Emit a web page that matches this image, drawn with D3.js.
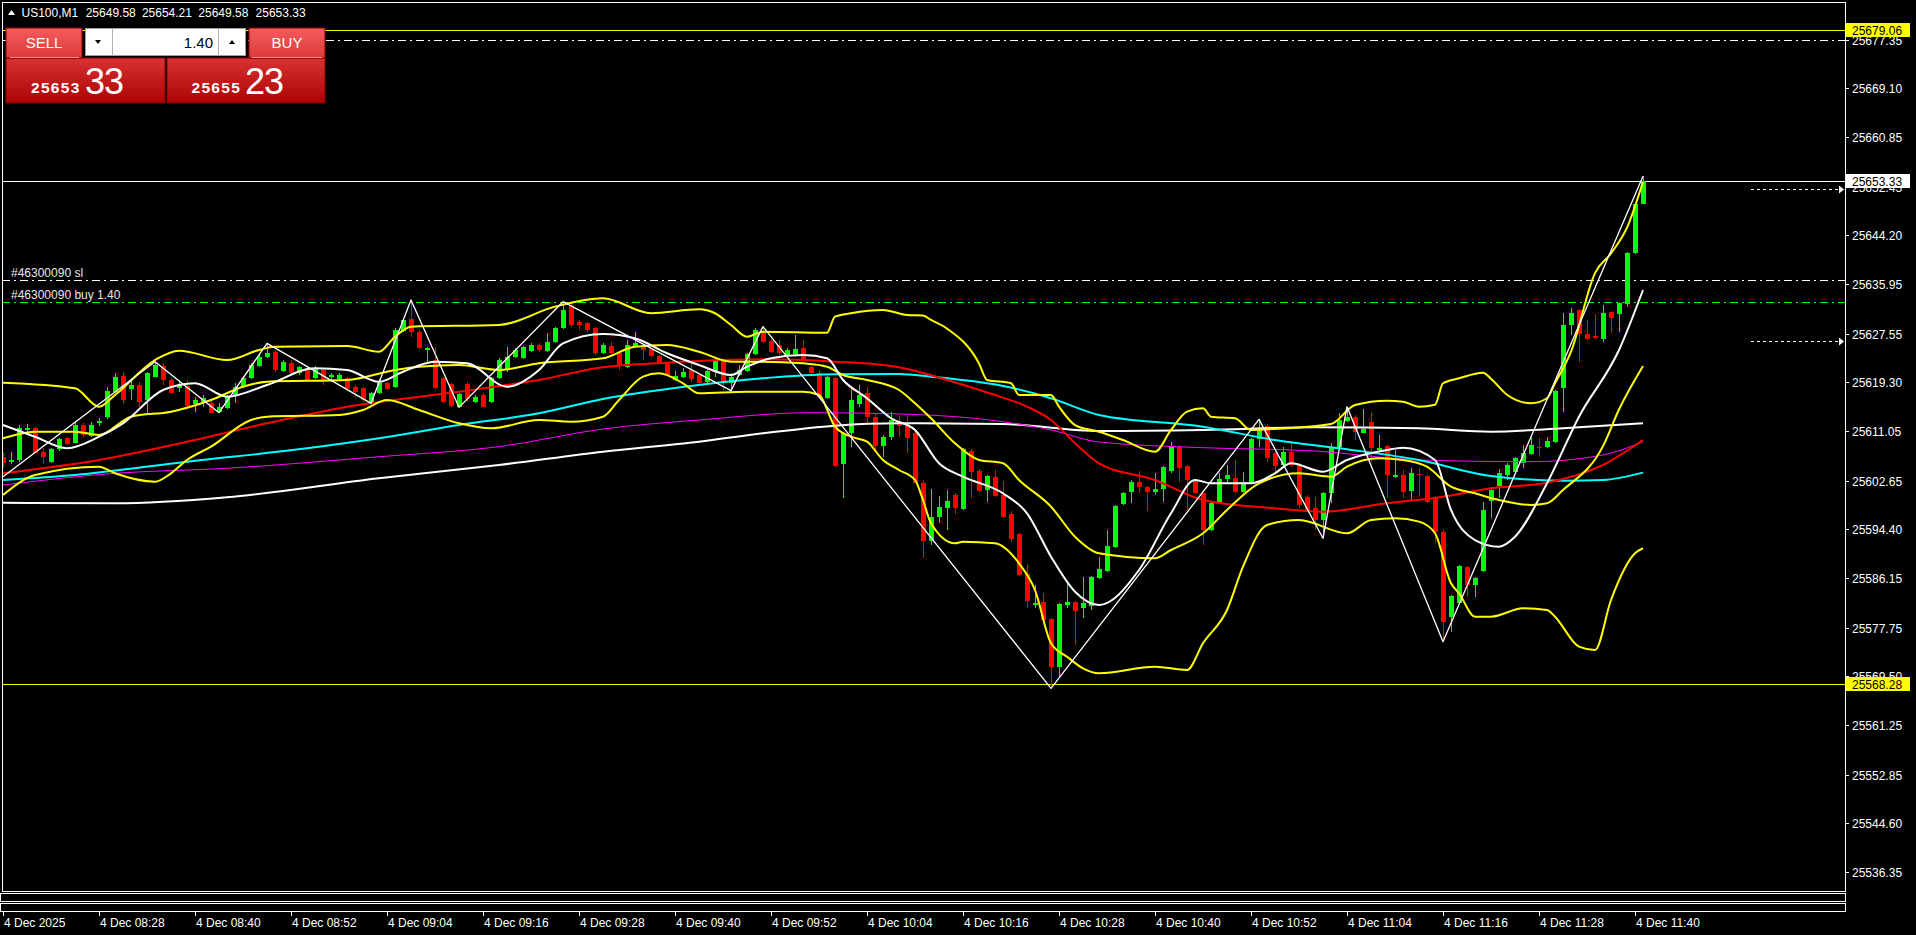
<!DOCTYPE html>
<html><head><meta charset="utf-8">
<script src="https://cdn.jsdelivr.net/npm/d3@7"></script>
<style>
html,body{margin:0;padding:0;background:#000;overflow:hidden}
svg{display:block}
text{font-family:"Liberation Sans",Arial,sans-serif}
</style></head><body>
<svg id="c" width="1916" height="935"></svg>
<script>
// ---------- DATA ----------
const symbolLabel = "US100,M1";
const headerOHLC = ["25649.58","25654.21","25649.58","25653.33"];
const opens = [25606.71,25605.81,25606.14,25611.23,25611.62,25607.56,25605.75,25607.95,25609.81,25609.08,
25612.07,25610.21,25612.35,25613.48,25617.72,25620.37,25618.17,25618.85,25616.31,25620.26,
25622.07,25619.69,25618.28,25618.68,25615.63,25615.74,25615.86,25614.33,25614.90,25616.98,
25618.45,25619.98,25622.07,25623.53,25624.49,25621.28,25622.63,25620.82,25621.67,25619.98,
25621.39,25620.15,25619.86,25619.98,25618.57,25618.28,25615.86,25617.44,25619.13,25618.45,
25628.05,25629.97,25627.88,25624.78,25623.08,25619.98,25619.02,25615.18,25619.02,25616.02,
25617.15,25616.02,25619.98,25621.39,25623.53,25623.36,25624.66,25625.62,25624.66,25626.19,
25628.45,25632.40,25629.57,25629.29,25628.45,25624.32,25625.45,25624.21,25621.84,25625.45,
25625.45,25624.89,25623.76,25622.63,25619.69,25620.26,25621.39,25620.54,25619.41,25621.10,
25622.97,25619.13,25620.54,25621.27,25624.10,25627.60,25626.35,25625.62,25623.93,25624.10,
25625.06,25621.84,25620.93,25616.59,25619.97,25605.46,25610.66,25615.63,25617.43,25613.48,
25608.51,25609.98,25612.63,25612.35,25610.77,25602.30,25592.48,25596.43,25597.96,25600.21,
25597.79,25607.72,25604.28,25601.06,25603.21,25600.21,25597.00,25593.61,25586.83,25581.58,
25582.15,25579.15,25571.14,25581.58,25582.15,25581.02,25581.41,25586.10,25587.40,25591.35,
25598.63,25600.78,25602.47,25601.51,25600.78,25601.17,25604.34,25608.40,25605.13,25602.60,
25600.50,25594.29,25599.09,25602.87,25603.04,25600.78,25602.30,25609.64,25611.90,25607.27,
25605.30,25607.55,25605.30,25599.93,25597.96,25595.98,25600.50,25608.40,25612.80,25613.48,
25610.77,25612.64,25607.84,25608.51,25603.32,25603.60,25600.95,25603.77,25603.43,25599.93,
25594.00,25579.61,25581.98,25588.07,25584.97,25587.40,25599.26,25601.74,25603.60,25604.17,
25605.69,25607.16,25608.40,25608.29,25609.25,25618.28,25629.01,25631.55,25627.48,25627.15,
25626.58,25631.27,25630.87,25632.57,25641.15,25649.58];
const highs = [25607.27,25607.56,25612.07,25612.19,25611.79,25608.12,25608.12,25609.81,25610.10,25612.64,
25612.35,25612.64,25613.20,25618.57,25620.82,25620.82,25619.69,25619.41,25621.11,25622.80,
25622.52,25619.98,25619.69,25619.69,25616.87,25617.15,25616.31,25615.74,25617.15,25619.13,
25620.26,25622.52,25624.21,25625.90,25624.78,25623.08,25623.08,25622.07,25621.95,25622.07,
25621.67,25620.82,25620.82,25620.26,25618.85,25618.57,25617.72,25619.81,25619.41,25628.45,
25630.14,25633.24,25628.16,25625.23,25625.23,25620.26,25619.24,25617.55,25619.41,25617.15,
25617.44,25620.26,25623.36,25625.23,25625.06,25625.45,25625.90,25625.90,25627.60,25628.73,
25632.96,25632.96,25629.86,25629.57,25628.73,25625.90,25626.18,25624.49,25626.47,25627.88,
25625.62,25625.06,25623.93,25622.80,25621.27,25621.67,25622.51,25620.82,25621.67,25623.36,
25623.19,25620.82,25622.23,25624.32,25628.44,25628.73,25626.58,25626.47,25625.06,25627.31,
25626.47,25622.06,25621.39,25620.37,25620.26,25610.94,25618.28,25618.85,25618.56,25614.05,
25610.38,25614.33,25613.59,25613.59,25610.94,25602.75,25601.17,25600.04,25601.06,25600.50,
25608.12,25607.95,25604.56,25603.60,25604.45,25602.64,25597.56,25593.83,25588.36,25584.97,
25583.56,25579.32,25581.98,25585.25,25582.32,25586.38,25586.49,25589.77,25594.29,25598.52,
25600.78,25602.75,25604.34,25601.74,25603.88,25605.13,25609.25,25608.68,25605.30,25603.00,
25600.78,25599.09,25603.88,25605.30,25606.14,25604.17,25609.81,25613.03,25612.24,25607.55,
25608.40,25609.25,25605.58,25600.21,25599.93,25600.78,25608.97,25614.05,25615.18,25613.77,
25614.72,25614.05,25610.38,25608.68,25607.84,25604.45,25604.73,25604.73,25603.60,25600.04,
25594.29,25583.28,25588.36,25588.19,25586.38,25599.09,25601.63,25604.56,25605.69,25606.71,
25608.68,25610.09,25609.81,25610.09,25618.00,25631.10,25631.83,25631.66,25629.86,25630.87,
25632.40,25631.44,25632.96,25641.43,25649.61,25654.21];
const lows = [25605.01,25605.47,25605.86,25610.94,25607.27,25605.47,25605.58,25607.73,25608.69,25608.97,
25610.10,25610.10,25611.96,25613.03,25617.55,25615.74,25616.31,25615.18,25614.05,25620.15,
25618.85,25617.44,25617.72,25614.90,25614.33,25615.18,25614.05,25614.16,25614.78,25615.74,
25618.28,25619.81,25621.95,25623.36,25621.11,25621.11,25620.54,25620.54,25619.41,25619.81,
25618.85,25619.92,25619.69,25618.00,25616.87,25616.02,25615.74,25617.32,25618.00,25618.28,
25627.88,25627.03,25624.89,25622.80,25618.11,25615.74,25615.18,25615.06,25616.02,25615.86,
25615.06,25615.74,25619.81,25621.11,25623.36,25623.19,25624.49,25624.49,25624.49,25626.02,
25628.28,25628.73,25628.16,25627.88,25623.93,25624.10,25623.93,25621.39,25621.67,25625.34,
25623.08,25623.64,25622.51,25620.37,25619.58,25619.97,25619.41,25619.01,25619.24,25620.26,
25618.00,25617.89,25620.37,25621.10,25623.93,25626.02,25624.21,25623.93,25623.76,25623.93,
25622.80,25620.65,25616.76,25616.42,25605.01,25599.65,25608.40,25615.18,25612.35,25607.84,
25606.71,25609.53,25610.09,25607.27,25602.19,25589.49,25591.74,25595.53,25594.28,25596.94,
25597.67,25599.65,25600.78,25599.08,25599.93,25596.26,25592.31,25586.49,25581.02,25581.02,
25578.93,25567.47,25569.44,25581.02,25574.81,25579.32,25580.73,25585.93,25587.23,25591.18,
25598.52,25598.80,25600.50,25597.50,25600.21,25599.09,25603.88,25602.47,25597.67,25600.33,
25591.75,25594.17,25598.92,25602.19,25600.61,25600.61,25602.19,25608.40,25605.86,25604.17,
25605.13,25605.01,25597.96,25597.50,25594.29,25592.88,25598.80,25608.23,25612.63,25609.53,
25610.66,25605.86,25607.55,25599.65,25603.04,25599.65,25599.37,25599.93,25598.92,25592.03,
25575.37,25577.07,25581.87,25583.00,25583.00,25587.23,25596.26,25599.65,25602.75,25604.00,
25604.73,25607.00,25606.71,25608.12,25608.97,25614.33,25627.32,25622.80,25626.47,25626.64,
25626.19,25627.60,25627.88,25632.11,25641.04,25649.58];
const closes = [25605.58,25606.14,25611.51,25611.51,25607.39,25606.60,25607.95,25609.64,25608.85,25612.07,
25610.38,25612.07,25612.75,25617.83,25620.26,25616.31,25618.85,25616.02,25620.82,25622.24,
25619.69,25617.55,25618.85,25615.29,25616.31,25616.59,25614.16,25615.18,25616.87,25618.57,
25619.98,25622.24,25623.65,25624.32,25621.39,25622.80,25620.82,25621.84,25619.69,25621.67,
25619.58,25620.54,25620.54,25618.23,25617.66,25616.31,25617.44,25619.13,25618.23,25628.16,
25629.86,25627.88,25625.06,25625.06,25618.28,25616.02,25615.29,25617.32,25616.42,25616.87,
25615.18,25619.98,25623.08,25623.65,25624.78,25625.23,25625.62,25624.78,25626.19,25628.45,
25631.55,25629.01,25629.01,25628.16,25624.21,25625.62,25624.21,25622.06,25625.62,25626.02,
25624.77,25623.76,25622.80,25620.54,25620.37,25621.10,25619.80,25619.13,25621.27,25623.08,
25619.13,25620.26,25621.39,25624.10,25628.16,25626.18,25624.49,25624.21,25624.77,25624.89,
25623.08,25620.82,25616.87,25620.26,25605.13,25610.66,25616.30,25617.15,25613.48,25608.51,
25610.09,25612.92,25611.90,25609.81,25602.30,25592.48,25596.43,25598.12,25599.25,25597.96,
25607.95,25604.17,25600.95,25603.43,25600.04,25596.43,25592.70,25586.66,25582.32,25581.86,
25579.04,25571.14,25581.75,25582.15,25580.62,25581.98,25586.27,25587.62,25591.58,25598.35,
25600.50,25602.47,25601.63,25600.78,25601.17,25604.90,25608.40,25604.73,25602.75,25600.50,
25594.29,25598.92,25602.87,25603.60,25600.78,25602.47,25609.64,25611.22,25606.43,25605.13,
25607.55,25605.30,25598.52,25597.67,25595.98,25600.50,25608.40,25612.92,25613.48,25610.94,
25611.34,25608.12,25608.12,25603.60,25603.60,25600.78,25603.88,25603.60,25599.09,25594.00,
25578.76,25583.11,25588.19,25584.97,25586.10,25597.67,25601.06,25604.00,25605.30,25606.43,
25607.38,25608.68,25608.23,25609.42,25617.89,25629.01,25631.10,25627.48,25626.58,25626.75,
25630.98,25630.14,25632.79,25641.26,25649.50,25653.33];

const timeTickBars = [0,12,24,36,48,60,72,84,96,108,120,132,144,156,168,180,192,204];
const timeTickLabels = ["4 Dec 2025","4 Dec 08:28","4 Dec 08:40","4 Dec 08:52","4 Dec 09:04","4 Dec 09:16",
"4 Dec 09:28","4 Dec 09:40","4 Dec 09:52","4 Dec 10:04","4 Dec 10:16","4 Dec 10:28","4 Dec 10:40",
"4 Dec 10:52","4 Dec 11:04","4 Dec 11:16","4 Dec 11:28","4 Dec 11:40"];
const priceTicks = [25677.35,25669.10,25660.85,25652.45,25644.20,25635.95,25627.55,25619.30,25611.05,
25602.65,25594.40,25586.15,25577.75,25569.50,25561.25,25552.85,25544.60,25536.35];

const bbUpper = [[0,25619.24],[9,25618.29],[12,25615.17],[14,25617.15],[19,25623.08],[22,25624.66],[28,25623.08],[32,25624.78],[34,25625.34],[43,25625.45],[47,25624.49],[49,25627.03],[51,25628.72],[62,25629.01],[69,25632.12],[75,25633.54],[81,25631.00],[87,25631.67],[89,25631.00],[91,25629.00],[93,25627.03],[95,25627.88],[103,25627.71],[104,25630.42],[106,25631.00],[110,25631.55],[113,25630.70],[115,25630.60],[116,25629.86],[118,25628.40],[122,25622.50],[123,25619.70],[126,25619.14],[127,25617.15],[131,25617.15],[132,25615.17],[134,25612.07],[137,25610.94],[140,25609.53],[144,25607.55],[146,25611.23],[148,25614.33],[150,25614.90],[151,25613.48],[154,25613.21],[156,25611.23],[158,25611.34],[166,25612.24],[169,25615.46],[173,25616.19],[175,25616.02],[177,25615.17],[179,25615.50],[180,25619.14],[182,25619.98],[185,25620.93],[186,25619.90],[188,25617.20],[191,25615.75],[193,25616.60],[194,25619.14],[196,25624.50],[199,25637.80],[201,25641.15],[203,25645.50],[205,25653.28]];
const bbMiddle = [[0,25609.82],[4,25610.94],[9,25610.94],[12,25610.38],[16,25613.48],[21,25614.33],[26,25616.31],[30,25618.56],[33,25619.41],[43,25619.70],[49,25621.39],[52,25621.95],[57,25622.24],[62,25621.39],[67,25622.52],[75,25623.37],[79,25625.34],[83,25625.62],[87,25624.49],[91,25622.80],[95,25622.80],[100,25622.52],[103,25621.95],[105,25620.54],[108,25619.70],[112,25618.00],[114,25615.75],[116,25613.21],[119,25608.97],[122,25606.15],[125,25605.59],[127,25602.76],[131,25598.24],[134,25593.15],[137,25590.34],[144,25589.49],[146,25590.90],[150,25593.73],[153,25597.68],[157,25602.20],[162,25603.89],[166,25603.32],[168,25605.01],[172,25606.43],[175,25606.15],[178,25605.01],[181,25601.62],[184,25600.50],[187,25599.37],[191,25598.52],[193,25598.81],[195,25601.06],[200,25608.50],[202,25614.70],[205,25622.07]];
const bbLower = [[0,25600.22],[4,25603.60],[12,25605.01],[14,25603.89],[19,25602.47],[21,25603.89],[23,25606.15],[26,25608.40],[31,25612.92],[33,25613.48],[42,25613.77],[45,25614.61],[48,25616.31],[52,25614.61],[57,25612.36],[61,25611.51],[67,25612.92],[71,25612.63],[75,25613.48],[77,25616.31],[80,25620.26],[82,25620.83],[85,25619.14],[87,25617.44],[93,25617.71],[100,25617.71],[102,25617.15],[104,25611.79],[106,25610.09],[108,25609.25],[110,25606.15],[112,25604.45],[114,25602.76],[115,25599.37],[116,25595.42],[119,25592.03],[120,25592.31],[124,25592.03],[127,25588.65],[129,25584.12],[131,25575.10],[133,25572.83],[135,25570.86],[137,25570.02],[144,25571.14],[148,25570.58],[150,25575.10],[153,25580.74],[155,25588.07],[158,25595.14],[162,25595.98],[168,25593.73],[171,25595.98],[174,25596.27],[177,25595.70],[179,25593.73],[181,25585.26],[182,25583.57],[184,25579.61],[186,25579.61],[190,25581.03],[193,25580.74],[194,25579.61],[197,25574.53],[199,25573.96],[201,25582.43],[204,25590.34],[205,25591.19]];
const maFast = [[0,25612.07],[4,25610.09],[8,25608.13],[12,25610.09],[15,25612.36],[20,25618.00],[24,25619.14],[28,25616.87],[33,25618.85],[39,25621.68],[43,25621.39],[47,25619.41],[50,25621.10],[54,25622.80],[58,25622.52],[63,25618.56],[67,25621.39],[70,25625.91],[75,25627.49],[79,25626.76],[83,25624.22],[87,25622.24],[91,25620.54],[93,25621.95],[96,25623.37],[100,25623.93],[103,25623.37],[105,25619.70],[108,25616.60],[111,25613.21],[114,25611.23],[117,25605.59],[120,25603.32],[125,25600.50],[128,25597.12],[131,25589.77],[134,25583.84],[137,25581.59],[142,25587.51],[146,25597.12],[149,25602.76],[151,25602.20],[156,25602.20],[159,25603.89],[161,25605.59],[165,25604.16],[168,25606.15],[173,25607.84],[175,25608.23],[179,25606.15],[181,25597.68],[184,25592.59],[187,25591.46],[189,25593.15],[193,25602.20],[197,25613.48],[202,25624.77],[205,25634.94]];
const maRed = [[0,25603.89],[12,25606.16],[24,25609.53],[33,25612.36],[43,25615.17],[57,25617.71],[67,25619.70],[75,25621.85],[83,25622.63],[95,25623.20],[104,25622.80],[112,25621.85],[118,25619.70],[124,25617.15],[128,25615.20],[131,25612.92],[134,25609.00],[137,25605.59],[144,25602.76],[150,25599.37],[159,25597.96],[165,25597.39],[173,25598.81],[180,25599.93],[186,25601.35],[193,25602.30],[200,25605.30],[205,25609.53]];
const maCyan = [[0,25602.76],[9,25603.60],[23,25605.86],[38,25608.13],[47,25609.82],[57,25612.07],[67,25614.06],[75,25616.48],[87,25618.85],[95,25619.98],[104,25620.66],[112,25620.71],[116,25620.26],[125,25618.68],[131,25616.60],[137,25613.77],[150,25611.79],[159,25609.53],[168,25607.96],[177,25606.15],[186,25603.43],[195,25602.64],[200,25602.76],[205,25604.00]];
const maMagenta = [[0,25601.91],[14,25603.89],[28,25604.74],[47,25606.70],[62,25608.40],[75,25611.40],[87,25612.92],[101,25614.16],[112,25613.94],[125,25612.63],[131,25611.23],[137,25609.19],[150,25608.23],[164,25607.67],[177,25606.15],[191,25605.86],[200,25607.00],[205,25609.25]];
const maSlow = [[0,25598.91],[14,25598.81],[28,25599.83],[47,25603.05],[62,25605.30],[75,25607.55],[87,25609.25],[95,25610.67],[104,25611.96],[112,25612.36],[125,25612.24],[137,25611.06],[150,25611.23],[164,25611.68],[177,25611.51],[186,25610.94],[195,25611.51],[205,25612.36]];
const zigzag = [[0,25603.30],[19,25622.80],[27,25614.16],[33,25625.90],[46,25615.74],[51,25633.24],[57,25615.06],[70,25632.96],[91,25617.89],[95,25628.73],[131,25567.47],[157,25613.03],[165,25592.88],[168,25615.18],[180,25575.37],[205,25654.21]];

const rangeHigh = 25679.06, rangeLow = 25568.28, bidPrice = 25653.33;
const tpLevel = 25677.35, slLevel = 25636.58, entryLevel = 25632.85;
const slLabel = "#46300090 sl", entryLabel = "#46300090 buy 1.40";
const arrowLevels = [25652.0, 25626.25];
const sellBig = ["25653","33"], buyBig = ["25655","23"], lotSize = "1.40";

// ---------- CHART ----------
const W=1916,H=935, pL=2,pR=1845,pT=2,pB=891;
const svg=d3.select('#c');
const x=d3.scaleLinear().domain([0,205]).range([3,1643]);
const y=d3.scaleLinear().domain([25533.14,25683.72]).range([pB,pT]);
svg.append('rect').attr('width',W).attr('height',H).attr('fill','#000');
const defs=svg.append('defs');
defs.append('clipPath').attr('id','plot').append('rect').attr('x',pL).attr('y',pT).attr('width',pR-pL).attr('height',pB-pT);
function grad(id,c1,c2){const lg=defs.append('linearGradient').attr('id',id).attr('x1',0).attr('y1',0).attr('x2',0).attr('y2',1);
 lg.append('stop').attr('offset','0%').attr('stop-color',c1);lg.append('stop').attr('offset','100%').attr('stop-color',c2);}
grad('gTop','#f45c5c','#dc3a3a'); grad('gPrice','#d83232','#ad0303');

const g=svg.append('g').attr('clip-path','url(#plot)');
function hline(p,color,dash,w){g.append('line').attr('x1',pL).attr('x2',pR).attr('y1',Math.round(y(p))+0.5).attr('y2',Math.round(y(p))+0.5)
 .attr('stroke',color).attr('stroke-width',w||1).attr('stroke-dasharray',dash||null).attr('shape-rendering','crispEdges');}
hline(rangeHigh,'#ffff00'); hline(rangeLow,'#ffff00'); hline(bidPrice,'#ffffff');
hline(tpLevel,'#ffffff','8,4,2,4'); hline(slLevel,'#ffffff','8,4,2,4'); hline(entryLevel,'#00ff00','8,4,2,4');

// candles
const bars=opens.map((o,i)=>({i,o,h:highs[i],l:lows[i],c:closes[i]}));
const cg=g.append('g').attr('shape-rendering','crispEdges');
bars.forEach(b=>{
  const cx=Math.round(x(b.i)); const col=b.c>=b.o?'#00ff00':'#ff0000';
  cg.append('line').attr('x1',cx+0.5).attr('x2',cx+0.5).attr('y1',y(b.h)).attr('y2',y(b.l)).attr('stroke',col).attr('stroke-width',1);
  const t=y(Math.max(b.o,b.c)), bt=y(Math.min(b.o,b.c));
  cg.append('rect').attr('x',cx-2).attr('y',t).attr('width',5).attr('height',Math.max(1,bt-t)).attr('fill',col);
});

function drawLine(data,color,w,curve){
  g.append('path').datum(data).attr('d',d3.line().x(d=>x(d[0])).y(d=>y(d[1])).curve(curve||d3.curveMonotoneX))
   .attr('fill','none').attr('stroke',color).attr('stroke-width',w).attr('stroke-linejoin','round');
}
drawLine(maSlow,'#ffffff',2);
drawLine(maMagenta,'#ff00ff',1);
drawLine(maCyan,'#00ffff',2);
drawLine(maRed,'#ff0000',2);
drawLine(bbUpper,'#ffff00',2);
drawLine(bbMiddle,'#ffff00',2);
drawLine(bbLower,'#ffff00',2);
drawLine(maFast,'#ffffff',2);
drawLine(zigzag,'#ffffff',1.3,d3.curveLinear);

// order labels
g.append('text').attr('x',11).attr('y',Math.round(y(slLevel))-3).attr('fill','#e8e8e8').attr('font-size',12).text(slLabel);
g.append('text').attr('x',11).attr('y',Math.round(y(entryLevel))-3).attr('fill','#e8e8e8').attr('font-size',12).text(entryLabel);

// dotted arrows on the right
arrowLevels.forEach(p=>{const yy=Math.round(y(p))+0.5;
  g.append('line').attr('x1',1751).attr('x2',1839).attr('y1',yy).attr('y2',yy).attr('stroke','#fff').attr('stroke-dasharray','3,3');
  g.append('path').attr('d',`M1839,${yy-4}L1844,${yy}L1839,${yy+4}Z`).attr('fill','#fff');});

// frame
svg.append('rect').attr('x',pL+0.5).attr('y',pT+0.5).attr('width',pR-pL).attr('height',pB-pT).attr('fill','none').attr('stroke','#fff').attr('shape-rendering','crispEdges');
svg.append('rect').attr('x',0.5).attr('y',893.5).attr('width',pR).attr('height',7.5).attr('fill','none').attr('stroke','#fff').attr('shape-rendering','crispEdges');
svg.append('rect').attr('x',0.5).attr('y',903.5).attr('width',pR).attr('height',7.5).attr('fill','none').attr('stroke','#fff').attr('shape-rendering','crispEdges');

// price axis
const ax=svg.append('g').attr('shape-rendering','crispEdges');
priceTicks.forEach(p=>{const yy=Math.round(y(p));
  ax.append('line').attr('x1',pR+1).attr('x2',pR+4).attr('y1',yy+0.5).attr('y2',yy+0.5).attr('stroke','#fff');
  ax.append('text').attr('x',1852).attr('y',yy+4.5).attr('fill','#fff').attr('font-size',12).text(p.toFixed(2));});
function priceBox(p,bg){const yy=Math.round(y(p));
  ax.append('rect').attr('x',1846).attr('y',yy-7).attr('width',64).attr('height',14).attr('fill',bg);
  ax.append('text').attr('x',1852).attr('y',yy+4.5).attr('fill','#000').attr('font-size',12).text(p.toFixed(2));}
priceBox(rangeHigh,'#ffff00'); priceBox(bidPrice,'#ffffff'); priceBox(rangeLow,'#ffff00');

// time axis
timeTickBars.forEach((b,k)=>{const xx=Math.round(x(b));
  ax.append('line').attr('x1',xx+0.5).attr('x2',xx+0.5).attr('y1',911).attr('y2',916).attr('stroke','#fff');
  ax.append('text').attr('x',xx+1).attr('y',927).attr('fill','#fff').attr('font-size',12).text(timeTickLabels[k]);});

// header
svg.append('path').attr('d','M8,15L15,15L11.5,10Z').attr('fill','#fff');
svg.append('text').attr('x',21.5).attr('y',16.5).attr('fill','#fff').attr('font-size',12).text(symbolLabel);
[85.7,141.9,198.3,255.6].forEach((xx,k)=>svg.append('text').attr('x',xx).attr('y',16.5).attr('fill','#fff').attr('font-size',12).text(headerOHLC[k]));

// trading panel
const tp=svg.append('g');
tp.append('rect').attr('x',6).attr('y',58).attr('width',159).attr('height',45).attr('fill','url(#gPrice)').attr('stroke','#8a0000');
tp.append('rect').attr('x',167).attr('y',58).attr('width',158).attr('height',45).attr('fill','url(#gPrice)').attr('stroke','#8a0000');
tp.append('rect').attr('x',6).attr('y',28).attr('width',76).attr('height',30).attr('fill','url(#gTop)').attr('stroke','#8a0000');
tp.append('rect').attr('x',249).attr('y',28).attr('width',76).attr('height',30).attr('fill','url(#gTop)').attr('stroke','#8a0000');
tp.append('line').attr('x1',10).attr('x2',79).attr('y1',57.5).attr('y2',57.5).attr('stroke','#ff9090');
tp.append('line').attr('x1',252).attr('x2',322).attr('y1',57.5).attr('y2',57.5).attr('stroke','#ff9090');
tp.append('rect').attr('x',85.5).attr('y',28.5).attr('width',160).attr('height',27).attr('fill','#fff').attr('stroke','#a0a0a0');
tp.append('line').attr('x1',112.5).attr('x2',112.5).attr('y1',28.5).attr('y2',55.5).attr('stroke','#b0b0b0');
tp.append('line').attr('x1',218.5).attr('x2',218.5).attr('y1',28.5).attr('y2',55.5).attr('stroke','#b0b0b0');
tp.append('path').attr('d','M95,40L101,40L98,44Z').attr('fill','#000');
tp.append('path').attr('d','M229,44L235,44L232,40Z').attr('fill','#000');
tp.append('text').attr('x',213).attr('y',48).attr('text-anchor','end').attr('font-size',15).attr('fill','#000').text(lotSize);
tp.append('text').attr('x',44).attr('y',48.3).attr('text-anchor','middle').attr('font-size',15).attr('fill','#fff').text('SELL');
tp.append('text').attr('x',287).attr('y',48.3).attr('text-anchor','middle').attr('font-size',15).attr('fill','#fff').text('BUY');
tp.append('text').attr('x',31).attr('y',92.5).attr('font-size',15.5).attr('font-weight','bold').attr('letter-spacing',1.3).attr('fill','#fff').text(sellBig[0]);
tp.append('text').attr('x',85).attr('y',93.5).attr('font-size',36).attr('letter-spacing',-1).attr('fill','#fff').text(sellBig[1]);
tp.append('text').attr('x',191.5).attr('y',92.5).attr('font-size',15.5).attr('font-weight','bold').attr('letter-spacing',1.3).attr('fill','#fff').text(buyBig[0]);
tp.append('text').attr('x',245).attr('y',93.5).attr('font-size',36).attr('letter-spacing',-1).attr('fill','#fff').text(buyBig[1]);
</script></body></html>
